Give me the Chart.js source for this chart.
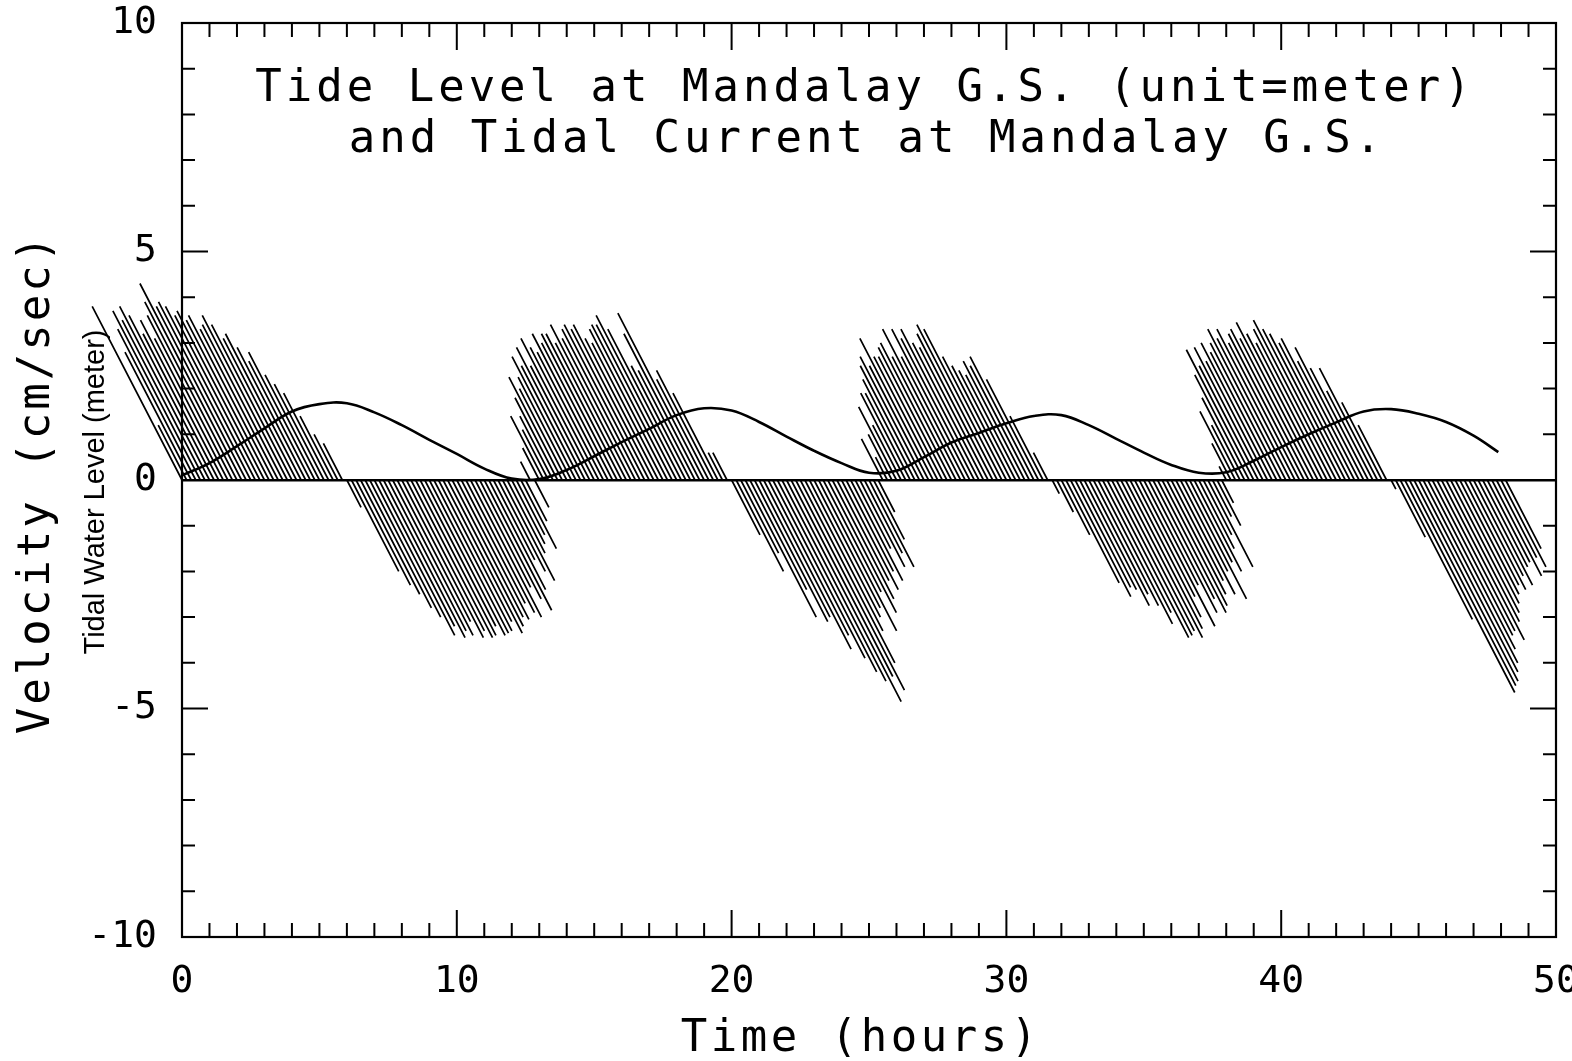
<!DOCTYPE html>
<html>
<head>
<meta charset="utf-8">
<title>Tide Level and Tidal Current at Mandalay G.S.</title>
<script src="https://cdn.jsdelivr.net/npm/chart.js@4.4.1/dist/chart.umd.min.js"></script>
<style>
  html, body { margin: 0; padding: 0; background: #fff; }
  #chart { display: block; }
</style>
</head>
<body>
<canvas id="chart" width="1572" height="1061"></canvas>
<script>
// current sticks, one every 10 minutes starting at t = 0 (hours)
const stickStart = 0;
const stickStep = 1 / 6;
const stickV = [
   3.8,  1.2,  2.8,  3.3,  3.7,  3.5,
   3.8,  3.6,  3.2,  3.5,  3.1,  3.6,
   3.9,  4.3,  3.8,  3.9,  3.8,  3.6,
   3.7,  3.5,  3.6,  3.3,  3.4,  3.6,
   3.4,  3.1,  3.2,  2.9,  2.6,  2.8,
   2.3,  2.1,  1.9,  1.4,  1.0,  0.8,
  -0.6, -2.0, -2.3, -2.5, -2.8, -3.0,
  -3.4, -3.2, -3.45, -3.3, -3.4, -3.1,
  -3.45, -3.3, -3.45, -3.4, -3.2, -3.4,
  -3.35, -3.3, -3.1, -3.35, -3.2, -3.0,
  -3.05, -2.7, -2.9, -3.0, -2.35, -2.6,
  -2.85, -2.4, -1.75, -2.0, -2.2, -1.6,
  -1.4, -1.2, -1.5, -0.9,  0.4, -0.6,
   0.7,  1.4,  1.1,  1.4,  1.8,  2.25,
   2.0,  2.25, 2.7,  2.5,  2.9,  2.5,
   3.1,  2.9,  2.8,  3.2,  3.0,  3.2,
   3.2,  3.0,  3.4,  3.1,  3.3,  3.4,
   3.3,  3.4,  3.1,  3.0,  3.3,  3.4,
   3.4,  3.6,  3.3,  2.5,  2.4,  3.2,
   3.65, 2.2,  2.4,  1.9,  0.6,  0.6,
  -1.2, -2.0, -1.6, -3.0, -2.4, -3.1,
  -3.0, -3.7, -3.4, -3.9, -4.2, -4.4,
  -4.85, -4.3, -4.6, -4.0, -3.3, -3.0,
  -2.8, -3.3, -2.45, -2.9, -2.6, -2.2,
  -2.4, -2.0, -2.2, -1.5, -1.9, -1.6,
  -1.9, -1.3, -0.7,  0.9,  0.5,  1.0,
   1.6,  1.2,  1.9,  1.9,  2.2,  2.5,
   2.7,  2.5,  3.1,  2.7,  2.7,  2.9,
   3.0,  2.7,  3.3,  2.7,  3.3,  3.1,
   3.3,  3.0,  2.9,  3.2,  3.4,  3.3,
   2.7,  2.5,  2.4,  2.3,  2.6,  2.5,
   2.7,  2.2,  1.4,  0.6, -0.3, -0.7,
  -1.2, -2.25, -2.55, -2.35, -2.4, -2.75,
  -2.5, -2.75, -3.15, -2.9, -3.45, -3.4,
  -3.3, -3.45, -3.25, -3.0, -2.55, -3.2,
  -2.3, -2.9, -2.6, -2.9, -2.75, -2.5,
  -2.2, -2.5, -2.0, -2.6, -1.8, -2.0,
  -1.5, -1.2, -1.9, -0.8, -1.0, -0.5,
   0.3,  0.8,  1.5,  1.2,  1.8,  2.3,
   2.85, 2.5,  2.9,  2.6,  3.0,  2.8,
   3.0,  3.3,  3.1,  3.3,  3.0,  3.2,
   3.3,  3.1,  3.45, 3.2,  3.0,  3.3,
   3.5,  3.3,  3.2,  3.0,  3.1,  2.6,
   2.9,  2.45, 1.95, 2.45, 1.7,  1.2,
  -0.2, -1.25, -3.05, -4.65, -4.5, -4.4,
  -4.2, -4.0, -3.7, -3.4, -3.3, -3.5,
  -3.1, -2.9, -2.7, -2.5, -2.3, -2.4,
  -2.1, -2.3, -1.9, -1.8, -2.1, -1.7,
  -1.9, -1.5
];
// sticks lean along the channel: hours of sideways offset per unit of velocity
const stickLean = -0.86;

// tidal water level (meter)
const tideTimes = [0, 1, 2, 3, 4, 5, 6, 7, 8, 9, 10, 11, 12, 13, 14, 15, 16, 17, 18, 19,
  20, 21, 22, 23, 24, 25, 26, 27, 28, 29, 30, 31, 32, 33, 34, 35, 36, 37, 38, 39,
  40, 41, 42, 43, 44, 45, 46, 47, 47.9];
const tideLevels = [0.1, 0.37, 0.74, 1.13, 1.5, 1.66, 1.68, 1.48, 1.2, 0.88, 0.57, 0.25, 0.03, 0.02, 0.22, 0.52, 0.83, 1.12, 1.42, 1.57,
  1.52, 1.27, 0.95, 0.64, 0.37, 0.16, 0.2, 0.5, 0.82, 1.03, 1.24, 1.4, 1.42, 1.2, 0.9, 0.6, 0.33, 0.16, 0.17, 0.42,
  0.72, 1.0, 1.26, 1.5, 1.55, 1.45, 1.27, 0.97, 0.61];

const xTicks = [0, 10, 20, 30, 40, 50];
const yTicks = [-10, -5, 0, 5, 10];
const titleLines = ['Tide Level at Mandalay G.S. (unit=meter)', 'and Tidal Current at Mandalay G.S.'];
const xTitle = 'Time (hours)';
const yTitle = 'Velocity (cm/sec)';
const yTitle2 = 'Tidal Water Level (meter)';

const mono = "'DejaVu Sans Mono', monospace";

const stickPoints = [];
stickV.forEach((v, i) => {
  const t = stickStart + i * stickStep;
  stickPoints.push({ x: t, y: 0 }, { x: t + stickLean * v, y: v }, { x: t, y: null });
});

const tidePoints = tideTimes.map((t, i) => ({ x: t, y: tideLevels[i] }));

function spacedText(ctx, text, x, y, spacing) {
  ctx.letterSpacing = spacing + 'px';
  ctx.fillText(text, x + spacing / 2, y);
  ctx.letterSpacing = '0px';
}

const framePlugin = {
  id: 'frame',
  beforeDraw(chart) {
    const ctx = chart.ctx;
    ctx.save();
    ctx.fillStyle = '#fff';
    ctx.fillRect(0, 0, chart.width, chart.height);
    ctx.restore();
  },
  afterDraw(chart) {
    const { ctx, chartArea: a, scales: { x, y } } = chart;
    ctx.save();
    ctx.strokeStyle = '#000';
    ctx.lineWidth = 2.2;
    ctx.strokeRect(a.left, a.top, a.right - a.left, a.bottom - a.top);

    // inward tick marks: every hour, every unit
    ctx.lineWidth = 2;
    ctx.beginPath();
    for (let h = x.min; h <= x.max; h++) {
      const px = x.getPixelForValue(h);
      const len = h % 10 === 0 ? 27 : 14;
      ctx.moveTo(px, a.bottom); ctx.lineTo(px, a.bottom - len);
      ctx.moveTo(px, a.top); ctx.lineTo(px, a.top + len);
    }
    for (let v = y.min; v <= y.max; v++) {
      const py = y.getPixelForValue(v);
      const len = v % 5 === 0 ? 26 : 13;
      ctx.moveTo(a.left, py); ctx.lineTo(a.left + len, py);
      ctx.moveTo(a.right, py); ctx.lineTo(a.right - len, py);
    }
    ctx.stroke();

    // titles
    ctx.fillStyle = '#000';
    ctx.textAlign = 'center';
    ctx.textBaseline = 'alphabetic';
    const cx = (a.left + a.right) / 2;
    ctx.font = '44px ' + mono;
    spacedText(ctx, titleLines[0], cx - 6, a.top + 78, 4);
    spacedText(ctx, titleLines[1], cx - 4, a.top + 129, 4);

    spacedText(ctx, xTitle, cx - 10, chart.height - 10, 3.5);

    ctx.save();
    ctx.translate(49, (a.top + a.bottom) / 2 + 5);
    ctx.rotate(-Math.PI / 2);
    spacedText(ctx, yTitle, 0, 0, 3);
    ctx.restore();

    ctx.save();
    ctx.translate(104, y.getPixelForValue(0) + 12);
    ctx.rotate(-Math.PI / 2);
    ctx.font = "29px 'Liberation Sans', Arial, sans-serif";
    ctx.fillText(yTitle2, 0, 0);
    ctx.restore();

    ctx.restore();
  }
};

new Chart(document.getElementById('chart'), {
  type: 'scatter',
  data: {
    datasets: [
      {
        label: 'Tidal current',
        type: 'line',
        data: stickPoints,
        borderColor: '#000',
        borderWidth: 1.7,
        pointRadius: 0,
        spanGaps: false,
        tension: 0,
        clip: false
      },
      {
        label: 'Tide level',
        type: 'line',
        data: tidePoints,
        borderColor: '#000',
        borderWidth: 2.6,
        pointRadius: 0,
        tension: 0.4
      }
    ]
  },
  options: {
    responsive: false,
    animation: false,
    layout: { padding: { top: 23, right: 16, left: 0, bottom: 0 } },
    plugins: {
      legend: { display: false },
      tooltip: { enabled: false }
    },
    scales: {
      x: {
        type: 'linear',
        min: 0,
        max: 50,
        afterBuildTicks: s => { s.ticks = xTicks.map(v => ({ value: v })); },
        afterFit: s => { s.height = 124; s.paddingLeft = 0; s.paddingRight = 0; },
        grid: { display: false, drawTicks: false },
        border: { display: false },
        ticks: {
          padding: 22,
          maxRotation: 0,
          color: '#000',
          font: { family: mono, size: 38 }
        }
      },
      y: {
        type: 'linear',
        min: -10,
        max: 10,
        afterBuildTicks: s => { s.ticks = yTicks.map(v => ({ value: v })); },
        afterFit: s => { s.width = 182; s.paddingTop = 0; s.paddingBottom = 0; },
        grid: {
          drawTicks: false,
          color: c => (c.tick && c.tick.value === 0 ? '#000' : 'rgba(0,0,0,0)'),
          lineWidth: 2.6
        },
        border: { display: false },
        ticks: {
          padding: 25,
          color: '#000',
          font: { family: mono, size: 38 }
        }
      }
    }
  },
  plugins: [framePlugin]
});
</script>
</body>
</html>
